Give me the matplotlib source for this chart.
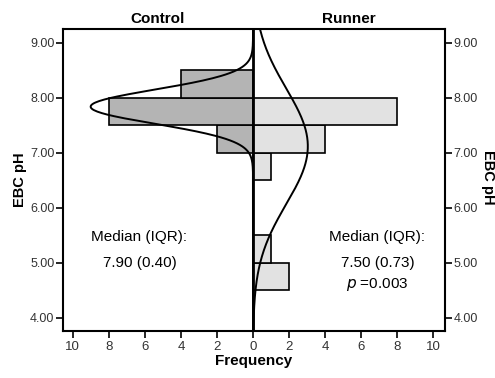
import matplotlib
matplotlib.use("Agg")
import matplotlib.pyplot as plt
import numpy as np

plt.rcParams['font.family'] = ['Liberation Sans', 'DejaVu Sans']

# ------ DATOS ------
bin_width = 0.5
control_bins = [7.0, 7.5, 8.0]
control_counts = [2, 8, 4]
runner_bins = [4.5, 5.0, 6.5, 7.0, 7.5]
runner_counts = [2, 1, 1, 4, 8]

# curvas normales (media, desviacion)
control_mean, control_sd = 7.84, 0.31
runner_mean, runner_sd = 7.12, 1.05

ph_ticks = [4, 5, 6, 7, 8, 9]
freq_ticks = [-10, -8, -6, -4, -2, 0, 2, 4, 6, 8, 10]

# ------ FIGURA ------
fig = plt.figure(figsize=(4.95, 3.78), dpi=100)
ax = fig.add_axes([0.127, 0.124, 0.772, 0.799])

ax.barh(control_bins, [-c for c in control_counts], height=bin_width, align='edge',
        color='#b4b4b4', edgecolor='black', linewidth=1.2, zorder=2)
ax.barh(runner_bins, runner_counts, height=bin_width, align='edge',
        color='#e2e2e2', edgecolor='black', linewidth=1.2, zorder=2)

y = np.linspace(3.76, 9.25, 400)


def normal_curve(mean, sd, n):
    return n * bin_width / (sd * np.sqrt(2 * np.pi)) * np.exp(-(y - mean) ** 2 / (2 * sd ** 2))


ax.plot(-normal_curve(control_mean, control_sd, sum(control_counts)), y,
        color='black', linewidth=1.4, zorder=3)
ax.plot(normal_curve(runner_mean, runner_sd, sum(runner_counts)), y,
        color='black', linewidth=1.4, zorder=3)

ax.axvline(0, color='black', linewidth=2, zorder=4)

ax.set_xlim(-10.55, 10.65)
ax.set_ylim(3.76, 9.25)

ax.set_xticks(freq_ticks)
ax.set_xticklabels([str(abs(t)) for t in freq_ticks], fontsize=9.5)
ax.set_yticks(ph_ticks)
ax.set_yticklabels(['%.2f' % t for t in ph_ticks], fontsize=9)
ax.tick_params(axis='y', which='both', left=True, right=True,
               labelleft=True, labelright=True, length=5, width=1.2, pad=1,
               colors='black', labelcolor='#333333')
ax.tick_params(axis='x', length=5, width=1.2, pad=2, colors='black', labelcolor='#333333')
for s in ax.spines.values():
    s.set_linewidth(1.5)

ax.set_xlabel('Frequency', fontsize=11, fontweight='bold', labelpad=1)
ax.set_ylabel('EBC pH', fontsize=10.5, fontweight='bold', labelpad=2)
fig.text(0.985, 0.53, 'EBC pH', rotation=-90, fontsize=10.5, fontweight='bold',
         ha='center', va='center')

ax.text(-5.3, 9.3, 'Control', fontsize=11, fontweight='bold', ha='center', va='bottom')
ax.text(5.3, 9.3, 'Runner', fontsize=11, fontweight='bold', ha='center', va='bottom')

ax.text(-6.3, 5.47, 'Median (IQR):', fontsize=11, ha='center', va='center')
ax.text(-6.3, 5.0, '7.90 (0.40)', fontsize=11, ha='center', va='center')
ax.text(6.9, 5.47, 'Median (IQR):', fontsize=11, ha='center', va='center')
ax.text(6.9, 5.0, '7.50 (0.73)', fontsize=11, ha='center', va='center')
ax.text(6.9, 4.6, '$\\it{p}$ =0.003', fontsize=11, ha='center', va='center')

plt.savefig('out.png', dpi=100)
